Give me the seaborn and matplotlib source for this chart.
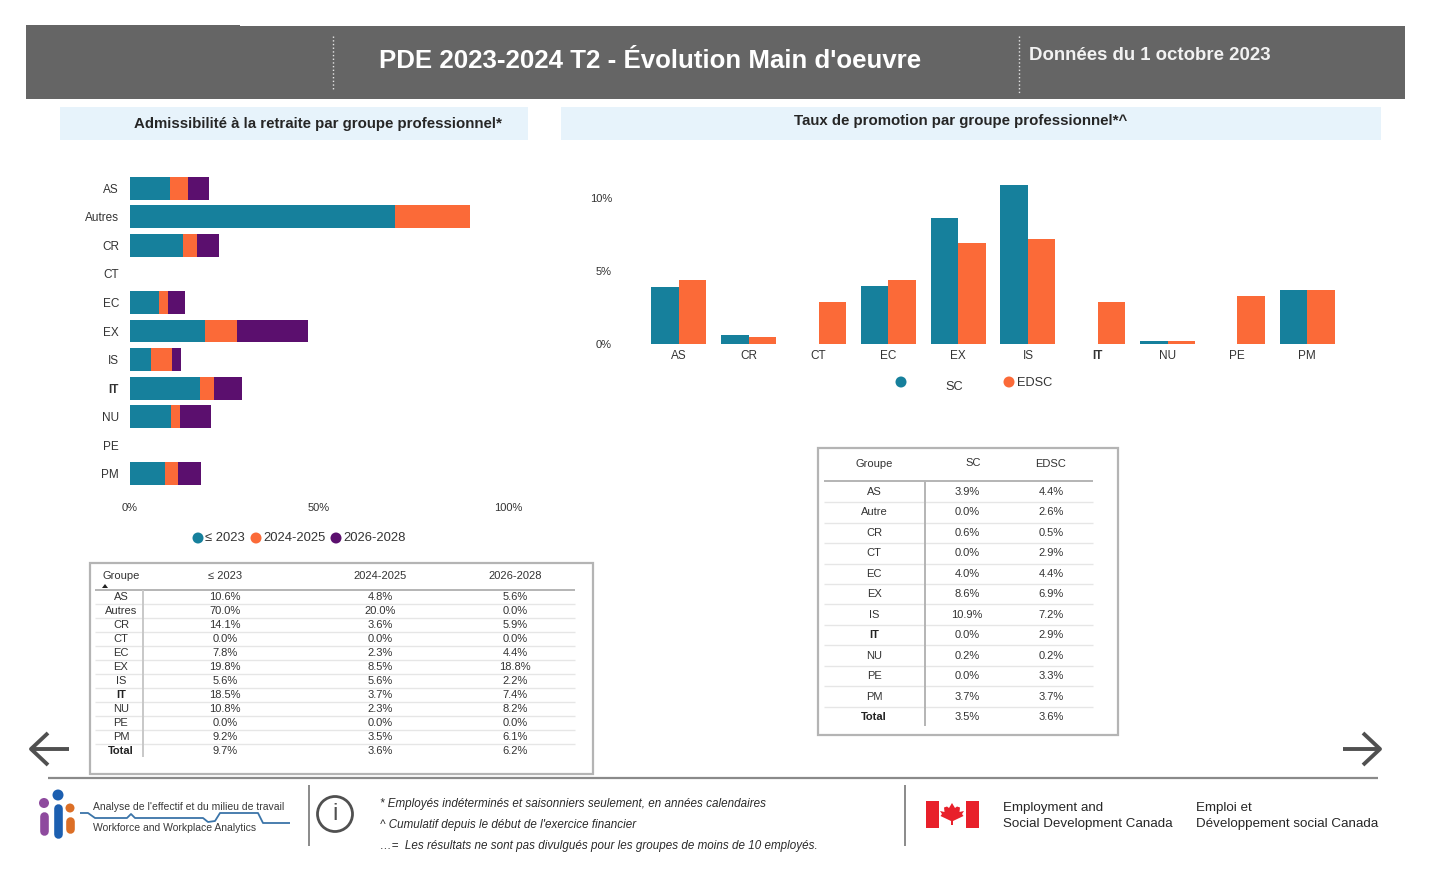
from matplotlib import pyplot as plt
from matplotlib.patches import Rectangle, Circle
import pandas as pd
import seaborn as sns

sns.set_theme(style='white')
plt.rcParams['font.family'] = ['Liberation Sans', 'DejaVu Sans']

W, H = 1430, 892

# retirement table, last row is the total
ret_groups = ['AS', 'Autres', 'CR', 'CT', 'EC', 'EX', 'IS', 'IT', 'NU', 'PE', 'PM', 'Total']
ret_2023 = [10.6, 70.0, 14.1, 0.0, 7.8, 19.8, 5.6, 18.5, 10.8, 0.0, 9.2, 9.7]
ret_2025 = [4.8, 20.0, 3.6, 0.0, 2.3, 8.5, 5.6, 3.7, 2.3, 0.0, 3.5, 3.6]
ret_2028 = [5.6, 0.0, 5.9, 0.0, 4.4, 18.8, 2.2, 7.4, 8.2, 0.0, 6.1, 6.2]
ret_labels = ['≤ 2023', '2024-2025', '2026-2028']

# promotion table
pro_groups = ['AS', 'Autre', 'CR', 'CT', 'EC', 'EX', 'IS', 'IT', 'NU', 'PE', 'PM', 'Total']
pro_sc = [3.9, 0.0, 0.6, 0.0, 4.0, 8.6, 10.9, 0.0, 0.2, 0.0, 3.7, 3.5]
pro_edsc = [4.4, 2.6, 0.5, 2.9, 4.4, 6.9, 7.2, 2.9, 0.2, 3.3, 3.7, 3.6]

notes = ['* Employés indéterminés et saisonniers seulement, en années calendaires',
         '^ Cumulatif depuis le début de l\'exercice financier',
         '…=  Les résultats ne sont pas divulgués pour les groupes de moins de 10 employés.']

TEAL, ORANGE, PURPLE = '#16809c', '#fb6a38', '#5b0f6e'
TXT = '#333333'
GREY = '#b4b4b4'


def pix_axes(left, top, right, bottom):
    return fig.add_axes([left / W, 1 - bottom / H, (right - left) / W, (bottom - top) / H])


def txt(x, y, s, size=8, ha='center', color=TXT, **kw):
    bg.text(x, y, s, fontsize=size, ha=ha, va='center', color=color, **kw)


def line(xs, ys, color=GREY, lw=1.0, **kw):
    bg.plot(xs, ys, color=color, lw=lw, solid_capstyle='butt', **kw)


fig = plt.figure(figsize=(W / 100, H / 100), dpi=100)

# layer in pixel coordinates for the page furniture
bg = fig.add_axes([0, 0, 1, 1])
bg.set_xlim(0, W)
bg.set_ylim(H, 0)
bg.axis('off')

# header band
bg.add_patch(Rectangle((26, 26), 1379, 73, color='#656565', lw=0))
bg.add_patch(Rectangle((26, 25), 214, 2, color='#656565', lw=0))
line([333, 333], [36, 90], color='#e6e6e6', lw=1, linestyle=':')
line([1019, 1019], [36, 94], color='#e6e6e6', lw=1, linestyle=':')
txt(650, 61, "PDE 2023-2024 T2 - Évolution Main d'oeuvre", size=18.6, color='white', weight='bold')
txt(1029, 56, 'Données du 1 octobre 2023', size=13.4, ha='left', color='#f2f2f2', weight='bold')

# panel titles
bg.add_patch(Rectangle((60, 107), 468, 33, color='#e7f3fb', lw=0))
bg.add_patch(Rectangle((561, 107), 820, 33, color='#e7f3fb', lw=0))
txt(318, 124, 'Admissibilité à la retraite par groupe professionnel*', size=10.85, color='#262626', weight='bold')
txt(961, 121, 'Taux de promotion par groupe professionnel*^', size=10.85, color='#262626', weight='bold')

# stacked bars: cumulative totals, longest drawn first
ret_df = pd.DataFrame({'groupe': ret_groups[:-1], 'a': ret_2023[:-1], 'b': ret_2025[:-1], 'c': ret_2028[:-1]})
ret_df['ab'] = ret_df['a'] + ret_df['b']
ret_df['abc'] = ret_df['ab'] + ret_df['c']

ax1 = pix_axes(130, 174, 508, 488)
ax1.patch.set_alpha(0)
for col, c in [('abc', PURPLE), ('ab', ORANGE), ('a', TEAL)]:
    sns.barplot(data=ret_df, y='groupe', x=col, color=c, saturation=1, width=0.8, linewidth=0, ax=ax1)
ax1.set_xlim(0, 100)
ax1.set_xticks([0, 50, 100], ['0%', '50%', '100%'])
ax1.set(xlabel=None, ylabel=None)
ax1.tick_params(axis='x', length=0, pad=11, labelsize=8, labelcolor=TXT)
ax1.tick_params(axis='y', length=0, pad=8, labelsize=8.5, labelcolor=TXT)
sns.despine(ax=ax1, left=True, bottom=True)

# grouped bars
pro_df = pd.DataFrame({'groupe': pro_groups[:-1], 'SC': pro_sc[:-1], 'EDSC': pro_edsc[:-1]})
pro_df = pro_df[pro_df['groupe'] != 'Autre']
pro_long = pro_df.melt(id_vars='groupe', var_name='org', value_name='taux')

ax2 = pix_axes(644, 174, 1342, 344)
ax2.patch.set_alpha(0)
sns.barplot(data=pro_long, x='groupe', y='taux', hue='org', palette={'SC': TEAL, 'EDSC': ORANGE},
            saturation=1, width=0.79, gap=0, linewidth=0, legend=False, ax=ax2)
ax2.set_xlim(-0.5, 9.5)
ax2.set_ylim(0, 170 / 14.6)
ax2.set_yticks([0, 5, 10], ['0%', '5%', '10%'])
ax2.set(xlabel=None, ylabel=None)
ax2.tick_params(axis='x', length=0, pad=4, labelsize=8.5, labelcolor=TXT)
ax2.tick_params(axis='y', length=0, pad=23, labelsize=8, labelcolor=TXT)
sns.despine(ax=ax2, left=True, bottom=True)

for ax in (ax1, ax2):
    for lab in ax.get_xticklabels() + ax.get_yticklabels():
        if lab.get_text() == 'IT':
            lab.set_fontweight('bold')

# legends
for x, c, tx, s in [(198, TEAL, 205, ret_labels[0]), (256, ORANGE, 263, ret_labels[1]), (336, PURPLE, 343, ret_labels[2])]:
    bg.add_patch(Circle((x, 538), 5.5, color=c, lw=0))
    txt(tx, 538, s, size=9.4, ha='left')
bg.add_patch(Circle((901, 382), 5.5, color=TEAL, lw=0))
txt(945, 387, 'SC', size=9.2, ha='left')
bg.add_patch(Circle((1009, 382), 5.5, color=ORANGE, lw=0))
txt(1017, 383, 'EDSC', size=9.2, ha='left')

# left table
bg.add_patch(Rectangle((89.5, 563), 503, 211, fill=False, ec=GREY, lw=1.6))
txt(121, 576, 'Groupe', size=8)
for x, s in zip([225, 380, 515], ret_labels):
    txt(x, 576, s, size=8)
bg.fill([102, 108, 105], [588, 588, 584], color='#222222', lw=0)
for i, g in enumerate(ret_groups):
    y = 597 + i * 14
    if i < 11:
        line([95, 575], [y + 7, y + 7], color='#e6e6e6', lw=1)
    txt(121, y, g, size=8, weight='bold' if g in ('IT', 'Total') else 'normal', color='#222222' if g in ('IT', 'Total') else TXT)
    for x, vals in zip([225, 380, 515], [ret_2023, ret_2025, ret_2028]):
        txt(x, y, f'{vals[i]:.1f}%', size=8)
line([95, 575], [589.5, 589.5], lw=1.4)
line([143, 143], [590, 757], color='#c8c8c8', lw=1.4)

# right table
bg.add_patch(Rectangle((817.5, 447.5), 300, 287, fill=False, ec=GREY, lw=1.6))
txt(874, 464, 'Groupe', size=8)
txt(973, 463, 'SC', size=8)
txt(1051, 464, 'EDSC', size=8)
for i, g in enumerate(pro_groups):
    y = 492 + i * 20.45
    if i < 11:
        line([824, 1093], [y + 10.2, y + 10.2], color='#e6e6e6', lw=1)
    txt(874, y, g, size=8, weight='bold' if g in ('IT', 'Total') else 'normal', color='#222222' if g in ('IT', 'Total') else TXT)
    txt(967, y, f'{pro_sc[i]:.1f}%', size=8)
    txt(1051, y, f'{pro_edsc[i]:.1f}%', size=8)
line([824, 1093], [481, 481], lw=1.4)
line([925, 925], [481, 726], lw=1.4)

# navigation arrows
for x0, x1, d in [(69, 31, 1), (1343, 1380, -1)]:
    line([x0, x1], [749, 749], color='#505050', lw=2.8)
    line([x1 + d * 17, x1, x1 + d * 17], [733, 749, 765], color='#505050', lw=2.8)

# footer
line([48, 1378], [778, 778], color='#8a8a8a', lw=1.6)
line([309, 309], [785, 846], color='#8a8a8a', lw=1.4)
line([905, 905], [785, 846], color='#8a8a8a', lw=1.4)

# logo
for cx, cy, top, bottom, c, r in [(44, 803, 816, 831, '#8e4a9e', 5), (58, 795, 808, 834, '#1c5fb0', 5.5), (70, 808, 821, 829, '#dc6f26', 4.5)]:
    bg.add_patch(Circle((cx, cy), r, color=c, lw=0))
    bg.plot([cx, cx], [top, bottom], color=c, lw=6.2, solid_capstyle='round')
line([80, 88, 95, 127, 131, 135, 203, 208, 215, 220, 258, 263, 290],
     [813, 813, 818, 818, 814, 818, 818, 822, 821, 813, 813, 823, 823], color='#3b74a8', lw=1.3)
txt(93, 807, "Analyse de l'effectif et du milieu de travail", size=7.5, ha='left', color='#3a3a3a')
txt(93, 828, 'Workforce and Workplace Analytics', size=7.5, ha='left', color='#3a3a3a')

# info icon
bg.add_patch(Circle((335, 814), 17.5, fill=False, ec='#505050', lw=2))
txt(335, 814, 'i', size=17, color='#505050')

for y, s in zip([804, 825, 846], notes):
    txt(380, y, s, size=8.4, ha='left', style='italic', color='#2a2a2a')

# flag
bg.add_patch(Rectangle((926, 801), 12.5, 26.5, color='#e8202a', lw=0))
bg.add_patch(Rectangle((966, 801), 12.5, 26.5, color='#e8202a', lw=0))
leaf_x = [952, 955, 957, 960, 959.5, 964, 962, 963.5, 953, 953, 951, 951, 940.5, 942, 940, 944.5, 944, 947, 949]
leaf_y = [803, 808, 806.5, 807.5, 812, 811, 814, 816, 821, 825, 825, 821, 816, 814, 811, 812, 807.5, 806.5, 808]
bg.fill(leaf_x, leaf_y, color='#e8202a', lw=0)
txt(1003, 808, 'Employment and', size=9.6, ha='left', color='#262626')
txt(1003, 824, 'Social Development Canada', size=9.6, ha='left', color='#262626')
txt(1196, 808, 'Emploi et', size=9.6, ha='left', color='#262626')
txt(1196, 824, 'Développement social Canada', size=9.6, ha='left', color='#262626')

fig.savefig('out.png', dpi=100)
